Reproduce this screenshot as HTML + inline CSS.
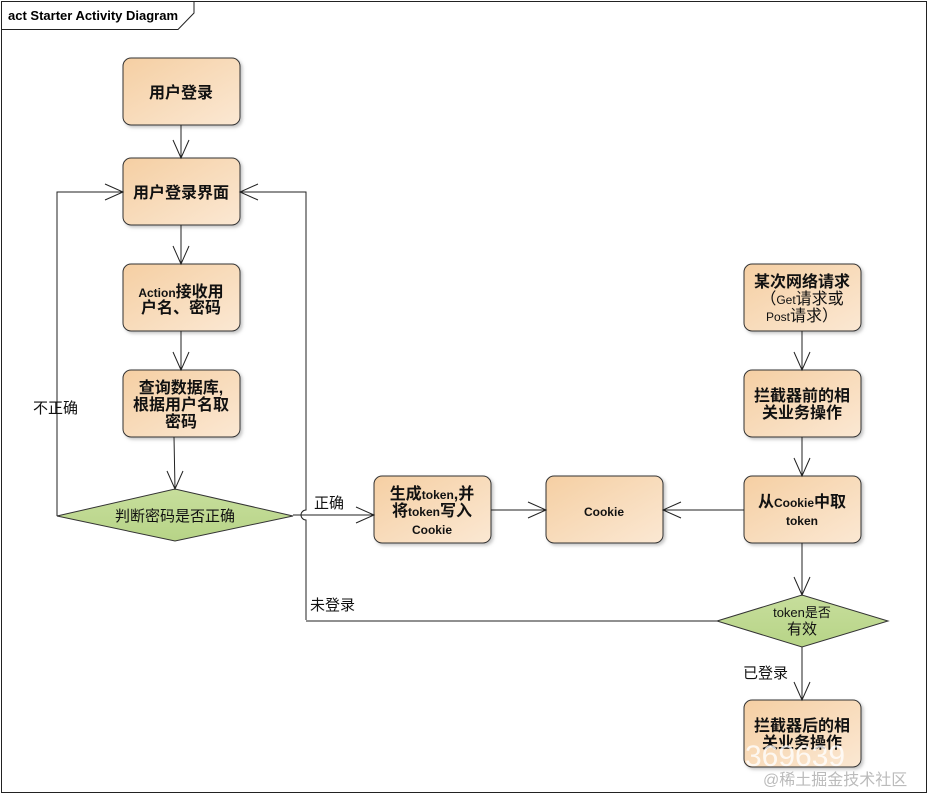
<!DOCTYPE html>
<html><head><meta charset="utf-8"><style>
body{margin:0;background:#fff}
svg{display:block}
.t{font-family:"Liberation Sans","Noto Sans CJK SC",sans-serif}
.b{font-weight:bold;font-size:16px}
.n{font-size:15px}
</style></head><body>
<svg width="929" height="795" viewBox="0 0 929 795" xmlns="http://www.w3.org/2000/svg">
<defs>
<linearGradient id="g" x1="0" y1="0" x2="1" y2="1">
<stop offset="0" stop-color="#f5cfa3"/><stop offset="1" stop-color="#fbe8d3"/></linearGradient>
<linearGradient id="d" x1="0" y1="0" x2="0" y2="1">
<stop offset="0" stop-color="#c7de9c"/><stop offset="1" stop-color="#b7d487"/></linearGradient>
<filter id="s"><feDropShadow dx="2" dy="2" stdDeviation="1.5" flood-color="#888" flood-opacity="0.5"/></filter>
</defs>
<rect x="1.5" y="1.5" width="925" height="791" fill="#fff" stroke="#222"/>
<path d="M1.5 29.5 H178 L194 13 V1.5" fill="none" stroke="#222"/>
<text x="8" y="20" class="t" style="font-size:13px;font-weight:bold">act Starter Activity Diagram</text>
<g fill="url(#g)" stroke="#333" stroke-width="1" filter="url(#s)">
<rect x="123" y="58" width="117" height="67" rx="8"/>
<rect x="123" y="158" width="117" height="67" rx="8"/>
<rect x="123" y="264" width="117" height="67" rx="8"/>
<rect x="123" y="370" width="117" height="67" rx="8"/>
<rect x="374" y="476" width="117" height="67" rx="8"/>
<rect x="546" y="476" width="117" height="67" rx="8"/>
<rect x="744" y="264" width="117" height="67" rx="8"/>
<rect x="744" y="370" width="117" height="67" rx="8"/>
<rect x="744" y="476" width="117" height="67" rx="8"/>
<rect x="744" y="700" width="117" height="67" rx="8"/>
</g>
<g fill="url(#d)" stroke="#333">
<polygon points="57,516 175,489 293,516 175,541"/>
<polygon points="717,621 802,595 888,621 802,647"/>
</g>
<g stroke="#222" fill="none" stroke-width="1">
<path d="M181 125V158M181 225V264M181 331V370M174 437L175 489"/>
<path d="M57 516V192H123M306 620V520A5 5 0 0 1 306 510V192H240"/>
<path d="M293 515H374M491 510H546M744 510H663"/>
<path d="M717 621H306"/>
<path d="M802 331V370M802 437V476M802 543V595M802 647V700"/>
<path d="M173 140L181 158L189 140M173 246L181 264L189 246M173 352L181 370L189 352M167 471L175 489L183 471"/>
<path d="M105 184L123 192L105 200M258 184L240 192L258 200"/>
<path d="M356 507L374 515L356 523M528 502L546 510L528 518M681 502L663 510L681 518"/>
<path d="M794 352L802 370L810 352M794 458L802 476L810 458M794 577L802 595L810 577M794 682L802 700L810 682"/>
</g>
<g class="t" text-anchor="middle" fill="#111">
<text x="181" y="98" class="b">用户登录</text>
<text x="181" y="198" class="b">用户登录界面</text>
<text x="181" y="297" class="b"><tspan style="font-size:12px">Action</tspan>接收用</text>
<text x="181" y="313" class="b">户名、密码</text>
<text x="181" y="393" class="b">查询数据库,</text>
<text x="181" y="410" class="b">根据用户名取</text>
<text x="181" y="427" class="b">密码</text>
<text x="175" y="521" class="n">判断密码是否正确</text>
<text x="432" y="499" class="b">生成<tspan style="font-size:12px">token</tspan>,并</text>
<text x="432" y="516" class="b">将<tspan style="font-size:12px">token</tspan>写入</text>
<text x="432" y="534" style="font-size:12px;font-weight:bold">Cookie</text>
<text x="604" y="516" style="font-size:12px;font-weight:bold">Cookie</text>
<text x="802" y="287" class="b">某次网络请求</text>
<text x="802" y="304" class="b" style="font-weight:normal">（<tspan style="font-size:12px">Get</tspan>请求或</text>
<text x="802" y="321" class="b" style="font-weight:normal"><tspan style="font-size:12px">Post</tspan>请求）</text>
<text x="802" y="401" class="b">拦截器前的相</text>
<text x="802" y="418" class="b">关业务操作</text>
<text x="802" y="507" class="b"><tspan>从</tspan><tspan style="font-size:12px">Cookie</tspan>中取</text>
<text x="802" y="525" style="font-size:12px;font-weight:bold">token</text>
<text x="802" y="617" style="font-size:13px">token是否</text>
<text x="802" y="634" class="n">有效</text>
<text x="802" y="731" class="b">拦截器后的相</text>
<text x="802" y="748" class="b">关业务操作</text>
</g>
<g class="t n" fill="#111">
<text x="33" y="413">不正确</text>
<text x="314" y="508">正确</text>
<text x="310" y="610">未登录</text>
<text x="743" y="678">已登录</text>
</g>
<text x="745" y="766" class="t" style="font-size:30px" fill="#fff" opacity="0.8">369639</text>
<text x="763" y="785" class="t" style="font-size:16px" fill="#bbb">@稀土掘金技术社区</text>
</svg>
</body></html>
